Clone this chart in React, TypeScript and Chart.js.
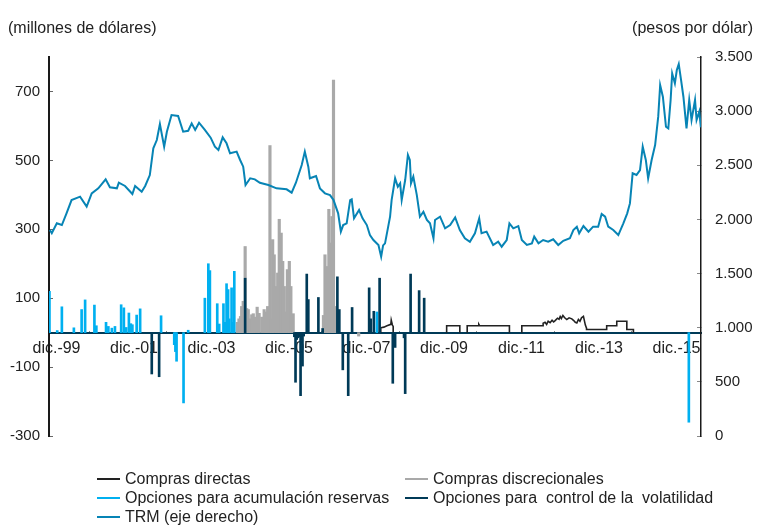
import React, { useEffect, useRef } from 'react';
import { Chart, registerables } from 'chart.js';

Chart.register(...registerables);

// ---------- data ----------
const xTickYears = [1999, 2001, 2003, 2005, 2007, 2009, 2011, 2013, 2015];
const xTickLabels = ['dic.-99', 'dic.-01', 'dic.-03', 'dic.-05', 'dic.-07', 'dic.-09', 'dic.-11', 'dic.-13', 'dic.-15'];
const leftTicks = [-300, -100, 100, 300, 500, 700];
const X_MIN = 1999.878;
const X_MAX = 2016.704;

const labelDirectas = 'Compras directas';
const labelDiscrecionales = 'Compras discrecionales';
const labelAcumulacion = 'Opciones para acumulación reservas';
const labelVolatilidad = 'Opciones para  control de la  volatilidad';
const labelTRM = 'TRM (eje derecho)';

// TRM (pesos por dólar), decimal year
const trmDates = [
  1999.90, 1999.95, 2000.08, 2000.21, 2000.33, 2000.46, 2000.68, 2000.85, 2000.98, 2001.15,
  2001.34, 2001.45, 2001.63, 2001.68, 2001.84, 2002.03, 2002.10, 2002.27, 2002.36, 2002.48,
  2002.57, 2002.66, 2002.74, 2002.85, 2002.92, 2003.04, 2003.21, 2003.34, 2003.47, 2003.56,
  2003.65, 2003.75, 2003.90, 2004.05, 2004.16, 2004.25, 2004.36, 2004.46, 2004.55, 2004.72,
  2004.81, 2004.89, 2004.95, 2005.07, 2005.19, 2005.32, 2005.54, 2005.75, 2006.01, 2006.14,
  2006.25, 2006.40, 2006.48, 2006.57, 2006.61, 2006.77, 2006.87, 2007.00, 2007.13, 2007.22,
  2007.34, 2007.41, 2007.47, 2007.56, 2007.65, 2007.69, 2007.75, 2007.88, 2007.97, 2008.08,
  2008.16, 2008.25, 2008.38, 2008.45, 2008.50, 2008.55, 2008.68, 2008.72, 2008.81, 2008.88,
  2008.94, 2008.98, 2009.07, 2009.14, 2009.19, 2009.22, 2009.28, 2009.37, 2009.45, 2009.54,
  2009.63, 2009.71, 2009.80, 2009.84, 2009.97, 2010.10, 2010.23, 2010.36, 2010.48, 2010.61,
  2010.74, 2010.87, 2010.98, 2011.04, 2011.17, 2011.34, 2011.47, 2011.56, 2011.69, 2011.76,
  2011.86, 2011.99, 2012.08, 2012.21, 2012.34, 2012.40, 2012.51, 2012.63, 2012.76, 2012.89,
  2013.02, 2013.15, 2013.32, 2013.41, 2013.50, 2013.56, 2013.67, 2013.80, 2013.92, 2014.05,
  2014.14, 2014.23, 2014.31, 2014.44, 2014.57, 2014.70, 2014.80, 2014.87, 2014.94, 2015.04,
  2015.13, 2015.20, 2015.28, 2015.34, 2015.43, 2015.52, 2015.60, 2015.65, 2015.72, 2015.80,
  2015.86, 2015.92, 2015.96, 2016.03, 2016.08, 2016.13, 2016.19, 2016.25, 2016.33, 2016.40,
  2016.46, 2016.55, 2016.59, 2016.66, 2016.70,
];
const trmValues = [
  1902, 1872, 1964, 1948, 2056, 2179, 2210, 2118, 2241, 2287,
  2370, 2297, 2287, 2339, 2309, 2235, 2309, 2256, 2309, 2410,
  2657, 2733, 2881, 2672, 2810, 2964, 2955, 2810, 2819, 2887,
  2826, 2893, 2826, 2755, 2672, 2641, 2758, 2703, 2611, 2626,
  2549, 2487, 2318, 2380, 2370, 2339, 2318, 2287, 2278, 2247,
  2339, 2502, 2626, 2487, 2380, 2401, 2287, 2241, 2225, 2179,
  2056, 1887, 1948, 1964, 2179, 2186, 2010, 2087, 2010, 1948,
  1856, 1810, 1764, 1656, 1760, 1779, 2025, 2179, 2380, 2302,
  2333, 2179, 2364, 2595, 2549, 2333, 2395, 2225, 2025, 2071,
  1995, 1964, 1826, 1995, 2025, 1918, 1948, 2019, 1902, 1826,
  1794, 1872, 2010, 1872, 1887, 1764, 1794, 1748, 1810, 1964,
  1918, 1939, 1810, 1764, 1779, 1841, 1779, 1810, 1794, 1817,
  1764, 1803, 1826, 1902, 1933, 1872, 1939, 1887, 1933, 1933,
  2050, 2025, 1933, 1902, 1856, 1964, 2056, 2148, 2426, 2410,
  2456, 2672, 2549, 2380, 2549, 2687, 2949, 3241, 3133, 2856,
  2841, 3103, 3349, 3256, 3380, 3435, 3287, 3133, 2841, 3103,
  2918, 3103, 2918, 2995, 2851,
];

// Opciones para acumulación de reservas (millones de dólares)
const acumDates = [
  1999.89, 2000.09, 2000.21, 2000.52, 2000.72, 2000.81, 2001.05, 2001.10, 2001.35, 2001.41,
  2001.50, 2001.58, 2001.74, 2001.81, 2001.87, 2001.94, 2001.99, 2002.03, 2002.14, 2002.23,
  2002.77, 2003.11, 2003.14, 2003.17, 2003.35, 2003.47, 2003.90, 2003.99, 2004.03, 2004.22,
  2004.27, 2004.38, 2004.41, 2004.46, 2004.50, 2004.53, 2004.59, 2004.61, 2004.63, 2004.66,
  2008.34, 2016.39,
];
const acumValues = [
  120, 6, 75, 14, 67, 95, 80, 20, 30, 18,
  13, 18, 81, 72, 15, 57, 26, 23, 51, 69,
  49, -35, -55, -83, -204, 7, 100, 200, 180, 84,
  25, 84, 30, 142, 125, 40, 130, 30, 25, 178,
  60, -260,
];

// Opciones para control de la volatilidad
const volDates = [
  2002.53, 2002.72, 2004.94, 2006.21, 2006.24, 2006.27, 2006.30, 2006.34, 2006.37, 2006.39,
  2006.42, 2006.45, 2006.53, 2006.57, 2006.83, 2006.94, 2007.32, 2007.37, 2007.46, 2007.60,
  2007.70, 2008.14, 2008.18, 2008.26, 2008.41, 2008.75, 2008.81, 2009.04, 2009.07, 2009.21,
  2009.43, 2009.56,
];
const volValues = [
  -120, -128, 158, -12, -144, -20, -15, -12, -183, -20,
  -97, -10, 170, 96, 102, 12, 162, 67, -108, -183,
  73, 130, 40, 62, 158, -147, -43, -15, -177, 170,
  122, 100,
];

// Compras discrecionales
const discDates = [
  2004.74, 2004.78, 2004.82, 2004.85, 2004.89, 2004.94, 2004.98, 2005.02, 2005.07, 2005.11,
  2005.15, 2005.19, 2005.25, 2005.30, 2005.37, 2005.43, 2005.48, 2005.52, 2005.58, 2005.62,
  2005.65, 2005.69, 2005.74, 2005.78, 2005.82, 2005.87, 2005.91, 2005.95, 2005.99, 2006.03,
  2006.08, 2006.12, 2006.18, 2006.96, 2007.00, 2007.04, 2007.08, 2007.10, 2007.15, 2007.18,
  2007.22, 2007.26, 2007.30, 2007.87,
];
const discValues = [
  30, 40, 47, 76, 91, 250, 70, 67, 40, 52,
  55, 45, 74, 56, 45, 67, 60, 76, 543, 40,
  270, 226, 134, 173, 329, 289, 207, 134, 60, 183,
  207, 134, 55, 50, 226, 192, 150, 358, 260, 337,
  733, 76, 55, -10,
];

// Compras directas (null = no data between programmes)
const directDates = [
  2008.44, 2008.44, 2008.52, 2008.60, 2008.70, 2008.71, 2008.74, 2008.76, 2008.76, 2008.80,
  2010.14, 2010.14, 2010.48, 2010.48, 2010.55,
  2010.67, 2010.67, 2010.95, 2010.97, 2010.99, 2011.76, 2011.76, 2011.90,
  2012.08, 2012.08, 2012.63, 2012.63, 2012.68, 2012.72, 2012.76, 2012.81, 2012.86, 2012.90,
  2012.94, 2013.00, 2013.04, 2013.07, 2013.10, 2013.14, 2013.18, 2013.24, 2013.30, 2013.37,
  2013.42, 2013.46, 2013.50, 2013.54, 2013.58, 2013.62, 2013.67, 2013.72, 2013.75, 2013.75,
  2014.27, 2014.27, 2014.53, 2014.53, 2014.79, 2014.79, 2014.96, 2014.96,
];
const directValues: (number | null)[] = [
  0, 14, 16, 20, 24, 36, 22, 18, 0, null,
  0, 20, 20, 0, null,
  0, 20, 20, 24, 20, 20, 0, null,
  0, 20, 20, 27, 30, 24, 33, 29, 36, 31,
  35, 42, 39, 47, 41, 50, 44, 38, 43, 40,
  35, 30, 28, 38, 33, 43, 47, 22, 13, 9,
  9, 20, 20, 33, 33, 9, 9, 0,
];

// ---------- style ----------
const FONT = "'Liberation Sans', Arial, Helvetica, sans-serif";
const TEXT = '#222222';
const C_DIRECT = '#222222';
const C_DISC = '#a9a9a9';
const C_ACUM = '#00b0f0';
const C_VOL = '#003a57';
const C_TRM = '#0784b5';

const fmtThousands = (v: number) => String(v).replace(/\B(?=(\d{3})+(?!\d))/g, '.');
const pts = (xs: number[], ys: (number | null)[]) => xs.map((x, i) => ({ x, y: ys[i] }));

const legendItems = [
  { label: labelDirectas, color: C_DIRECT, left: 97, top: 470 },
  { label: labelDiscrecionales, color: C_DISC, left: 405, top: 470 },
  { label: labelAcumulacion, color: C_ACUM, left: 97, top: 489 },
  { label: labelVolatilidad, color: C_VOL, left: 405, top: 489 },
  { label: labelTRM, color: C_TRM, left: 97, top: 508 },
];

export default function App() {
  const canvasRef = useRef<HTMLCanvasElement | null>(null);

  useEffect(() => {
    if (!canvasRef.current) return;
    Chart.defaults.font.family = FONT;
    Chart.defaults.font.size = 15;
    Chart.defaults.color = TEXT;

    const barCommon = {
      type: 'bar' as const,
      barThickness: 2,
      stack: 'all',
      yAxisID: 'y',
      borderWidth: 0,
    };

    const chart = new Chart(canvasRef.current, {
      type: 'bar',
      data: {
        datasets: [
          {
            type: 'line',
            label: labelTRM,
            data: pts(trmDates, trmValues),
            yAxisID: 'y2',
            borderColor: C_TRM,
            backgroundColor: C_TRM,
            borderWidth: 2,
            pointRadius: 0,
            tension: 0,
            order: 0,
          },
          { ...barCommon, label: labelVolatilidad, data: pts(volDates, volValues), backgroundColor: C_VOL, order: 1 },
          { ...barCommon, label: labelAcumulacion, data: pts(acumDates, acumValues), backgroundColor: C_ACUM, order: 2 },
          { ...barCommon, barThickness: 2.5, label: labelDiscrecionales, data: pts(discDates, discValues), backgroundColor: C_DISC, order: 3 },
          {
            type: 'line',
            label: labelDirectas,
            data: pts(directDates, directValues),
            yAxisID: 'y',
            borderColor: C_DIRECT,
            backgroundColor: C_DIRECT,
            borderWidth: 1.6,
            pointRadius: 0,
            spanGaps: false,
            tension: 0,
            order: 4,
          },
        ] as any,
      },
      options: {
        responsive: false,
        animation: false,
        layout: { padding: { left: 0, right: 0, top: 57, bottom: 91 } },
        plugins: { legend: { display: false }, tooltip: { enabled: false }, title: { display: false } },
        scales: {
          x: {
            type: 'linear',
            min: X_MIN,
            max: X_MAX,
            position: { y: 0 } as any,
            offset: false,
            grid: { drawOnChartArea: false, drawTicks: true, tickLength: -3, tickColor: '#8a8a8a', tickWidth: 1 },
            border: { display: true, color: C_VOL, width: 2 },
            ticks: {
              padding: 9,
              labelOffset: 6,
              maxRotation: 0,
              autoSkip: false,
              color: TEXT,
              font: { size: 16, family: FONT },
              callback: (_v: any, i: number) => xTickLabels[i],
            },
            afterBuildTicks: (s: any) => {
              s.ticks = xTickYears.map((y) => ({ value: y + 11 / 12 }));
            },
            afterFit: (s: any) => {
              s.height = 0;
            },
          },
          y: {
            type: 'linear',
            position: 'left',
            min: -300,
            max: 800,
            stacked: false,
            grid: { drawOnChartArea: false, drawTicks: true, tickLength: -4, tickColor: '#666', tickWidth: 1 },
            border: { display: true, color: '#1a1a1a', width: 2 },
            ticks: { padding: 13, color: TEXT, font: { size: 15, family: FONT } },
            afterBuildTicks: (s: any) => {
              s.ticks = leftTicks.map((v) => ({ value: v }));
            },
            afterFit: (s: any) => {
              s.width = 49;
            },
          },
          y2: {
            type: 'linear',
            position: 'right',
            min: 0,
            max: 3500,
            grid: { drawOnChartArea: false, drawTicks: true, tickLength: -4, tickColor: '#888', tickWidth: 1 },
            border: { display: true, color: '#1a1a1a', width: 1.5 },
            ticks: {
              stepSize: 500,
              padding: 18,
              color: TEXT,
              font: { size: 15, family: FONT },
              callback: (v: any) => fmtThousands(Number(v)),
            },
            afterFit: (s: any) => {
              s.width = 57;
            },
          },
        },
      } as any,
    });

    return () => chart.destroy();
  }, []);

  return (
    <div
      style={{
        position: 'absolute',
        left: 0,
        top: 0,
        width: 758,
        height: 527,
        background: '#ffffff',
        fontFamily: FONT,
        color: TEXT,
        fontSize: 16,
        overflow: 'hidden',
      }}
    >
      <canvas ref={canvasRef} width={758} height={527} style={{ position: 'absolute', left: 0, top: 0 }} />
      <div style={{ position: 'absolute', left: 8, top: 19, whiteSpace: 'pre', lineHeight: '18px' }}>(millones de dólares)</div>
      <div style={{ position: 'absolute', right: 5, top: 19, whiteSpace: 'pre', lineHeight: '18px' }}>(pesos por dólar)</div>
      {legendItems.map((it) => (
        <div key={it.label} style={{ position: 'absolute', left: it.left, top: it.top, height: 17, display: 'flex', alignItems: 'center' }}>
          <span style={{ display: 'inline-block', width: 23, height: 2, background: it.color, marginRight: 5 }} />
          <span style={{ whiteSpace: 'pre', lineHeight: '17px' }}>{it.label}</span>
        </div>
      ))}
    </div>
  );
}
